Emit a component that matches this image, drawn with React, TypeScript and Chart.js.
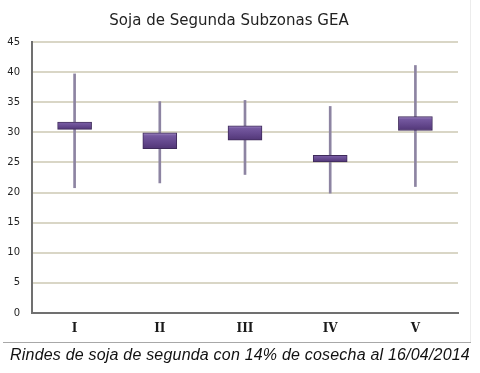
import React, { useEffect, useRef } from "react";
import { Chart, registerables } from "chart.js";

Chart.register(...registerables);

const categories = ["I", "II", "III", "IV", "V"];
const whiskerLow = [20.8, 21.6, 23.0, 19.9, 21.0];
const whiskerHigh = [39.7, 35.1, 35.3, 34.3, 41.1];
const boxLow = [30.5, 27.3, 28.7, 25.1, 30.3];
const boxHigh = [31.7, 29.9, 31.1, 26.2, 32.6];
const yTicks = [0, 5, 10, 15, 20, 25, 30, 35, 40, 45];

const titleText = "Soja de Segunda Subzonas GEA";
const captionText = "Rindes de soja de segunda con 14% de cosecha al 16/04/2014";

export default function App() {
  const canvasRef = useRef<HTMLCanvasElement | null>(null);

  useEffect(() => {
    document.body.style.margin = "0";
    const canvas = canvasRef.current;
    if (!canvas) return;

    const boxFill = (ctx: any) => {
      const chart = ctx.chart;
      const area = chart.chartArea;
      if (!area || ctx.type !== "data") return "#6a4f92";
      const i = ctx.dataIndex;
      const y = chart.scales.y;
      const top = y.getPixelForValue(boxHigh[i]);
      const bot = y.getPixelForValue(boxLow[i]);
      const g = chart.ctx.createLinearGradient(0, top, 0, bot);
      g.addColorStop(0, "#a38cc5");
      g.addColorStop(0.18, "#7559a0");
      g.addColorStop(0.6, "#63478c");
      g.addColorStop(1, "#513676");
      return g;
    };

    const chart = new Chart(canvas, {
      type: "bar",
      data: {
        labels: categories,
        datasets: [
          {
            label: "box",
            data: categories.map((_, i) => [boxLow[i], boxHigh[i]]),
            backgroundColor: boxFill,
            borderColor: "#3e2a5a",
            borderWidth: 1,
            borderSkipped: false,
            barThickness: 34,
            grouped: false,
          } as any,
          {
            label: "whisker",
            data: categories.map((_, i) => [whiskerLow[i], whiskerHigh[i]]),
            backgroundColor: "#8d84a2",
            borderWidth: 0,
            barThickness: 2,
            grouped: false,
          } as any,
        ],
      },
      options: {
        animation: false,
        responsive: false,
        maintainAspectRatio: false,
        layout: { padding: { left: 0, right: 22, top: 0, bottom: 0 } },
        plugins: {
          legend: { display: false },
          tooltip: { enabled: false },
          title: {
            display: true,
            text: titleText,
            color: "#222222",
            font: { family: "DejaVu Sans", size: 15, weight: "normal" },
            padding: { top: 12, bottom: 12 },
          },
        },
        scales: {
          x: {
            grid: { display: false, drawTicks: false },
            border: { display: true, color: "#707070", width: 2 },
            ticks: {
              color: "#1a1a1a",
              font: { family: "DejaVu Serif", size: 12, weight: "bold" },
              padding: 9,
            },
            afterFit: (s: any) => {
              s.height = 29;
            },
          },
          y: {
            min: 0,
            max: 45,
            afterBuildTicks: (s: any) => {
              s.ticks = yTicks.map((v) => ({ value: v }));
            },
            grid: { color: "#d9d6c6", lineWidth: 2, drawTicks: false },
            border: { display: true, color: "#707070", width: 2 },
            ticks: {
              color: "#1f1f1f",
              font: { family: "DejaVu Sans", size: 10 },
              padding: 12,
            },
            afterFit: (s: any) => {
              s.width = 32;
            },
          },
        },
      },
    });

    return () => chart.destroy();
  }, []);

  return (
    <div style={{ position: "relative", width: 480, height: 373, background: "#ffffff", overflow: "hidden" }}>
      <canvas ref={canvasRef} width={480} height={342} style={{ position: "absolute", left: 0, top: 0, width: 480, height: 342 }} />
      <div
        style={{
          position: "absolute",
          left: 470,
          top: 0,
          width: 1,
          height: 343,
          background: "#ececec",
        }}
      />
      <div
        style={{
          position: "absolute",
          left: 3,
          top: 342,
          width: 468,
          height: 1,
          background: "#a8a8a8",
        }}
      />
      <div
        style={{
          position: "absolute",
          left: 0,
          width: 480,
          top: 346,
          textAlign: "center",
          fontFamily: "'Liberation Sans', Arial, sans-serif",
          fontStyle: "italic",
          fontSize: 16,
          color: "#111111",
          whiteSpace: "nowrap",
          letterSpacing: 0.2,
        }}
      >
        {captionText}
      </div>
    </div>
  );
}
